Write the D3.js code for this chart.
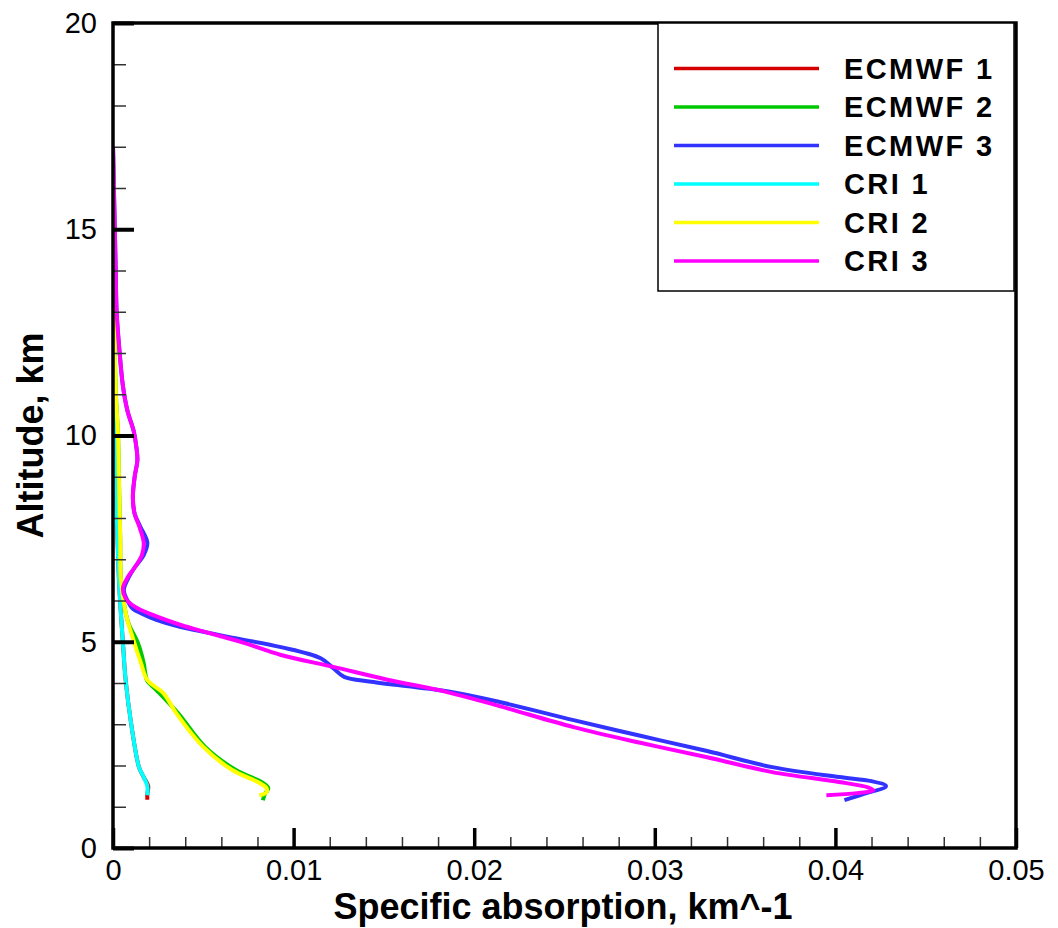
<!DOCTYPE html>
<html>
<head>
<meta charset="utf-8">
<script src="https://cdn.jsdelivr.net/npm/d3@7"></script>
<style>
  body { margin: 0; background: #fff; }
</style>
</head>
<body>
<div id="chart"></div>
<script>
// Series labels (legend order)
const seriesNames = ["ECMWF 1", "ECMWF 2", "ECMWF 3", "CRI 1", "CRI 2", "CRI 3"];

// Each profile: [specific absorption (km^-1), altitude (km)], in drawing order
const ecmwf1 = [[0, 17], [0.00003, 14], [0.00008, 11], [0.00015, 9], [0.00025, 7.5], [0.00033, 6.5],
  [0.00045, 5.6], [0.00055, 4.97], [0.0007, 4.07], [0.001, 3.03], [0.00144, 1.96], [0.0017, 1.72],
  [0.00195, 1.5], [0.0019, 1.3], [0.0019, 1.17]];
const ecmwf2 = [[0, 17], [0.00005, 14], [0.0001, 12], [0.00017, 10.9], [0.00028, 10], [0.00033, 8.9],
  [0.0004, 7.5], [0.00044, 6.5], [0.0007, 5.7], [0.0009, 5.4], [0.00138, 4.97], [0.0017, 4.48],
  [0.0018, 4.2], [0.0019, 4.05], [0.0024, 3.83], [0.0036, 3.27], [0.0051, 2.45], [0.0068, 1.89],
  [0.0083, 1.58], [0.0086, 1.45], [0.0084, 1.3], [0.0083, 1.16]];
const ecmwf3 = [[0, 17], [0.00005, 16], [0.0001, 15], [0.00015, 14], [0.0002, 13], [0.00033, 12.2],
  [0.00055, 11.2], [0.0008, 10.6], [0.00115, 10.1], [0.0013, 9.7], [0.00135, 9.4], [0.0012, 9.0],
  [0.0011, 8.5], [0.0012, 8.1], [0.0015, 7.8], [0.0019, 7.4], [0.0017, 7.1], [0.0012, 6.8],
  [0.0008, 6.5], [0.0006, 6.25], [0.0008, 6.0], [0.0011, 5.8], [0.0016, 5.68], [0.0024, 5.53],
  [0.0037, 5.36], [0.0046, 5.28], [0.0066, 5.1], [0.0093, 4.87], [0.0115, 4.6], [0.0122, 4.36],
  [0.0128, 4.15], [0.0143, 4.03], [0.0185, 3.8], [0.0214, 3.54], [0.0255, 3.1], [0.0292, 2.72],
  [0.0329, 2.35], [0.0365, 1.96], [0.0402, 1.72], [0.042, 1.62], [0.0428, 1.5], [0.0415, 1.3],
  [0.0405, 1.16]];
const cri1 = [[0, 17], [0.00003, 14], [0.00008, 11], [0.00015, 9], [0.00025, 7.5], [0.00033, 6.5],
  [0.00045, 5.6], [0.00055, 4.97], [0.0007, 4.07], [0.001, 3.03], [0.00144, 1.96], [0.0017, 1.72],
  [0.0019, 1.5], [0.0019, 1.28]];
const cri2 = [[0, 17], [0.00005, 14], [0.0001, 12], [0.00017, 10.9], [0.00028, 10], [0.00033, 8.9],
  [0.0004, 7.5], [0.00044, 6.5], [0.0007, 5.7], [0.00116, 5.0], [0.00155, 4.48], [0.0019, 4.07],
  [0.0028, 3.75], [0.0035, 3.27], [0.005, 2.45], [0.0066, 1.89], [0.0081, 1.58], [0.0085, 1.45],
  [0.0085, 1.35], [0.0081, 1.28]];
const cri3 = [[0, 17], [0.00005, 16], [0.0001, 15], [0.00015, 14], [0.0002, 13], [0.00033, 12.2],
  [0.00055, 11.2], [0.0008, 10.6], [0.00115, 10.1], [0.0013, 9.7], [0.00135, 9.4], [0.0012, 9.0],
  [0.0011, 8.5], [0.0012, 8.1], [0.00145, 7.8], [0.0017, 7.4], [0.0016, 7.1], [0.0012, 6.8],
  [0.0008, 6.55], [0.00055, 6.3], [0.0007, 6.05], [0.0012, 5.85], [0.0022, 5.65], [0.0038, 5.4],
  [0.005, 5.25], [0.0072, 4.98], [0.0093, 4.68], [0.0122, 4.39], [0.0152, 4.08], [0.0185, 3.78],
  [0.0214, 3.44], [0.0255, 2.93], [0.0292, 2.55], [0.0329, 2.2], [0.0365, 1.84], [0.0402, 1.6],
  [0.0418, 1.47], [0.0421, 1.4], [0.0412, 1.33], [0.0395, 1.28]];

const seriesData = [ecmwf1, ecmwf2, ecmwf3, cri1, cri2, cri3];
const seriesColors = ["#d40000", "#00c800", "#3333ff", "#00ffff", "#ffff00", "#ff00ff"];

// Axis ticks
const xTicks = [0, 0.01, 0.02, 0.03, 0.04, 0.05];
const xTickLabels = ["0", "0.01", "0.02", "0.03", "0.04", "0.05"];
const xMinorTicks = d3.range(0, 0.0501, 0.002);
const yTicks = [0, 5, 10, 15, 20];
const yTickLabels = ["0", "5", "10", "15", "20"];
const yMinorTicks = d3.range(0, 20.01, 1);

const xTitle = "Specific absorption, km^-1";
const yTitle = "Altitude, km";

// Layout
const width = 1058, height = 928;
const margin = { left: 113, right: 42, top: 23, bottom: 80 };
const font = "'Liberation Sans', Arial, Helvetica, sans-serif";

const svg = d3.select("#chart")
    .append("svg")
    .attr("width", width)
    .attr("height", height);

const x = d3.scaleLinear().domain([0, 0.05]).range([margin.left, width - margin.right]);
const y = d3.scaleLinear().domain([0, 20]).range([height - margin.bottom, margin.top]);

svg.append("defs").append("clipPath")
    .attr("id", "plot-clip")
    .append("rect")
    .attr("x", x(0)).attr("y", y(20))
    .attr("width", x(0.05) - x(0)).attr("height", y(0) - y(20));

// Profiles
const line = d3.line()
    .x(d => x(d[0]))
    .y(d => y(d[1]))
    .curve(d3.curveCatmullRom.alpha(0.5));

svg.append("g")
    .attr("clip-path", "url(#plot-clip)")
    .selectAll("path")
    .data(seriesData)
    .enter().append("path")
    .attr("d", line)
    .attr("fill", "none")
    .attr("stroke", (d, i) => seriesColors[i])
    .attr("stroke-width", 4)
    .attr("stroke-linejoin", "round");

// Minor ticks
svg.append("g")
    .attr("transform", `translate(0,${y(0)})`)
    .call(d3.axisBottom(x).tickValues(xMinorTicks).tickSize(-11).tickFormat(""))
    .call(g => g.select(".domain").remove())
    .call(g => g.selectAll("line").attr("stroke", "#333").attr("stroke-width", 1.5));

svg.append("g")
    .attr("transform", `translate(${x(0)},0)`)
    .call(d3.axisLeft(y).tickValues(yMinorTicks).tickSize(-13).tickFormat(""))
    .call(g => g.select(".domain").remove())
    .call(g => g.selectAll("line").attr("stroke", "#333").attr("stroke-width", 1.5));

// Major ticks with labels
svg.append("g")
    .attr("transform", `translate(0,${y(0)})`)
    .call(d3.axisBottom(x).tickValues(xTicks).tickSize(-20).tickPadding(11)
        .tickFormat((d, i) => xTickLabels[i]))
    .call(g => g.select(".domain").remove())
    .call(g => g.selectAll("line").attr("stroke", "#000").attr("stroke-width", 3.5))
    .call(g => g.selectAll("text").attr("font-family", font).attr("font-size", 29).attr("fill", "#000"));

svg.append("g")
    .attr("transform", `translate(${x(0)},0)`)
    .call(d3.axisLeft(y).tickValues(yTicks).tickSize(-21).tickPadding(16)
        .tickFormat((d, i) => yTickLabels[i]))
    .call(g => g.select(".domain").remove())
    .call(g => g.selectAll("line").attr("stroke", "#000").attr("stroke-width", 4))
    .call(g => g.selectAll("text").attr("font-family", font).attr("font-size", 29).attr("fill", "#000"));

// Frame
svg.append("rect")
    .attr("x", x(0)).attr("y", y(20))
    .attr("width", x(0.05) - x(0)).attr("height", y(0) - y(20))
    .attr("fill", "none")
    .attr("stroke", "#000")
    .attr("stroke-width", 3.5);

// Axis titles
svg.append("text")
    .attr("x", 563)
    .attr("y", 919)
    .attr("text-anchor", "middle")
    .attr("font-family", font)
    .attr("font-weight", "bold")
    .attr("font-size", 36)
    .text(xTitle);

svg.append("text")
    .attr("transform", `translate(43,${(y(0) + y(20)) / 2}) rotate(-90)`)
    .attr("text-anchor", "middle")
    .attr("font-family", font)
    .attr("font-weight", "bold")
    .attr("font-size", 36)
    .text(yTitle);

// Legend
const legendX = 658, legendY = 23, legendW = 356, legendH = 268;
const legend = svg.append("g");
legend.append("rect")
    .attr("x", legendX).attr("y", legendY)
    .attr("width", legendW).attr("height", legendH)
    .attr("fill", "#fff")
    .attr("stroke", "#000")
    .attr("stroke-width", 1.5);

const rowY = i => 68.5 + i * 38.5;
const item = legend.selectAll("g.item")
    .data(seriesNames)
    .enter().append("g")
    .attr("class", "item");

item.append("line")
    .attr("x1", 674).attr("x2", 819)
    .attr("y1", (d, i) => rowY(i)).attr("y2", (d, i) => rowY(i))
    .attr("stroke", (d, i) => seriesColors[i])
    .attr("stroke-width", 3.5);

item.append("text")
    .attr("x", 844)
    .attr("y", (d, i) => rowY(i))
    .attr("dy", "0.36em")
    .attr("font-family", font)
    .attr("font-weight", "bold")
    .attr("font-size", 29)
    .attr("letter-spacing", 2.4)
    .text(d => d);
</script>
</body>
</html>
